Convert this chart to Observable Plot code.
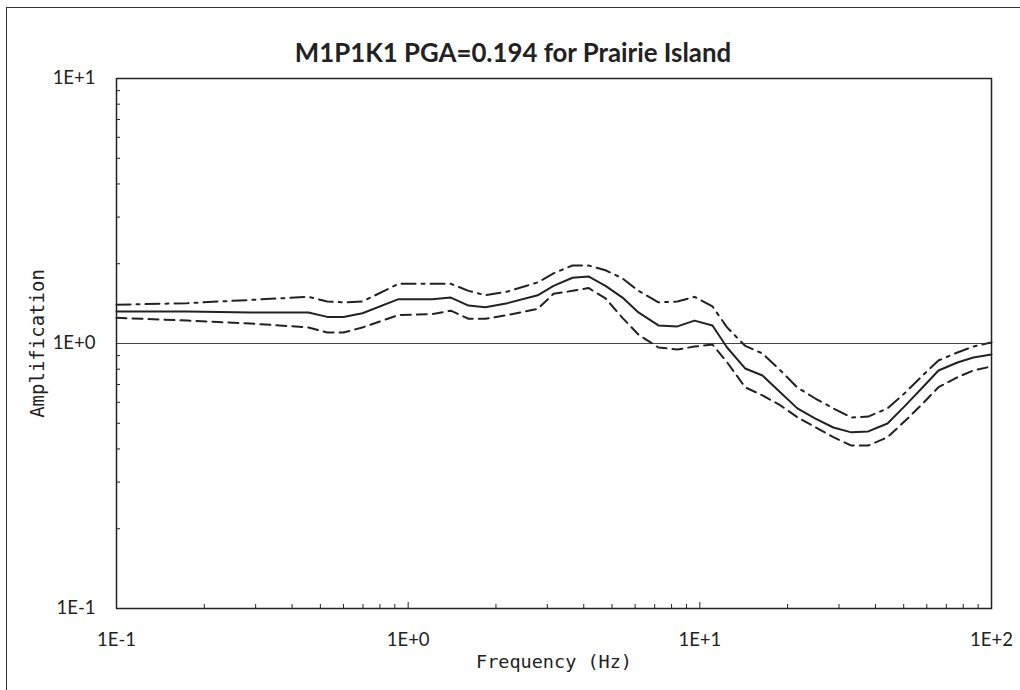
<!DOCTYPE html>
<html>
<head>
<meta charset="utf-8">
<script src="https://cdn.jsdelivr.net/npm/d3@7"></script>
<script src="https://cdn.jsdelivr.net/npm/@observablehq/plot@0.6"></script>
<style>
  body { margin: 0; background: #fff; }
  #wrap { position: relative; width: 1020px; height: 690px; overflow: hidden; background: #fff; }
  #wrap svg { position: absolute; left: 0; top: 0; background: transparent; }
  #border { position: absolute; left: 6px; top: 7px; width: 1100px; height: 800px;
            border-left: 1.5px solid #333; border-top: 1.5px solid #333; pointer-events: none; }
</style>
</head>
<body>
<div id="wrap"><div id="border"></div></div>
<script>
const chartTitle = "M1P1K1 PGA=0.194 for Prairie Island";
const xLabel = "Frequency (Hz)";
const yLabel = "Amplification";

const freq = [0.1, 0.175, 0.288, 0.455, 0.528, 0.600, 0.697, 0.927, 1.21, 1.40,
              1.61, 1.84, 2.19, 2.78, 3.15, 3.66, 4.15, 4.75, 5.43, 6.16,
              7.21, 8.38, 9.59, 11.05, 12.4, 14.3, 16.4, 18.9, 21.6, 24.9,
              28.7, 33.1, 37.8, 44.0, 50.7, 58.0, 65.8, 76.4, 86.7, 100];
const upper = [1.40, 1.42, 1.46, 1.50, 1.44, 1.43, 1.44, 1.68, 1.68, 1.68,
               1.58, 1.52, 1.57, 1.70, 1.84, 1.97, 1.97, 1.89, 1.76, 1.58,
               1.43, 1.44, 1.50, 1.38, 1.15, 0.98, 0.917, 0.791, 0.682, 0.620,
               0.569, 0.526, 0.530, 0.569, 0.653, 0.757, 0.863, 0.925, 0.974, 1.01];
const median = [1.32, 1.32, 1.31, 1.31, 1.26, 1.26, 1.30, 1.47, 1.47, 1.49,
                1.39, 1.37, 1.42, 1.52, 1.65, 1.77, 1.79, 1.65, 1.49, 1.31,
                1.17, 1.16, 1.22, 1.17, 0.966, 0.805, 0.757, 0.653, 0.569, 0.521,
                0.482, 0.462, 0.466, 0.499, 0.584, 0.682, 0.791, 0.848, 0.885, 0.909];
const lower = [1.25, 1.22, 1.19, 1.15, 1.10, 1.10, 1.15, 1.28, 1.29, 1.33,
               1.24, 1.24, 1.28, 1.35, 1.54, 1.58, 1.62, 1.48, 1.25, 1.08,
               0.966, 0.949, 0.974, 0.991, 0.850, 0.684, 0.637, 0.584, 0.527, 0.483,
               0.443, 0.412, 0.412, 0.443, 0.512, 0.592, 0.684, 0.746, 0.791, 0.819];

const xTickValues = [0.1, 1, 10, 100];
const xTickLabels = ["1E-1", "1E+0", "1E+1", "1E+2"];
const yTickValues = [0.1, 1, 10];
const yTickLabels = ["1E-1", "1E+0", "1E+1"];
const xMinor = [0.2, 0.3, 0.4, 0.5, 0.6, 0.7, 0.8, 0.9, 2, 3, 4, 5, 6, 7, 8, 9, 20, 30, 40, 50, 60, 70, 80, 90];
const yMinor = [0.2, 0.3, 0.4, 0.5, 0.6, 0.7, 0.8, 0.9, 2, 3, 4, 5, 6, 7, 8, 9];

const rows = (ys) => freq.map((f, i) => ({f, a: ys[i]}));
const lab = (vals, labels) => (d) => labels[vals.indexOf(d)];
const tickFont = "Lato, 'Open Sans', sans-serif";
const monoFont = "'DejaVu Sans Mono', monospace";
const ink = "#222";

const chart = Plot.plot({
  width: 1020,
  height: 690,
  marginLeft: 116,
  marginRight: 29,
  marginTop: 78,
  marginBottom: 82,
  style: {background: "transparent", color: ink},
  x: {type: "log", domain: [0.1, 100], label: null},
  y: {type: "log", domain: [0.1, 10], label: null},
  marks: [
    Plot.ruleY([1], {stroke: "#444", strokeWidth: 1}),
    Plot.axisX(xMinor, {anchor: "bottom", tickSize: -4, tickFormat: () => "", stroke: ink, label: null}),
    Plot.axisX(xTickValues, {anchor: "bottom", tickSize: -6, tickPadding: 30, tickFormat: lab(xTickValues, xTickLabels),
      fontSize: 18.5, fontFamily: tickFont, stroke: ink, fill: ink, label: null}),
    Plot.axisY(yMinor, {anchor: "left", tickSize: -4, tickFormat: () => "", stroke: ink, label: null}),
    Plot.axisY(yTickValues, {anchor: "left", tickSize: 0, tickPadding: 21, tickFormat: lab(yTickValues, yTickLabels),
      fontSize: 18.5, fontFamily: tickFont, fill: ink, label: null}),
    Plot.frame({stroke: ink, strokeWidth: 1.5}),
    Plot.line(rows(upper), {x: "f", y: "a", stroke: ink, strokeWidth: 2, strokeDasharray: "14,6,3,6"}),
    Plot.line(rows(median), {x: "f", y: "a", stroke: ink, strokeWidth: 2}),
    Plot.line(rows(lower), {x: "f", y: "a", stroke: ink, strokeWidth: 2, strokeDasharray: "10,6"}),
    Plot.text([chartTitle], {frameAnchor: "top", dx: -41, dy: -25, lineAnchor: "middle", textAnchor: "middle",
      fontSize: 25.8, fontWeight: "bold", fontFamily: tickFont, fill: ink}),
    Plot.text([xLabel], {frameAnchor: "bottom", dy: 54, lineAnchor: "middle", textAnchor: "middle",
      fontSize: 18.5, fontFamily: monoFont, fill: ink}),
    Plot.text([yLabel], {frameAnchor: "left", dx: -79, rotate: -90, lineAnchor: "middle", textAnchor: "middle",
      fontSize: 19, fontFamily: monoFont, fill: ink})
  ]
});
const wrap = document.getElementById("wrap");
wrap.insertBefore(chart, wrap.firstChild);
</script>
</body>
</html>
